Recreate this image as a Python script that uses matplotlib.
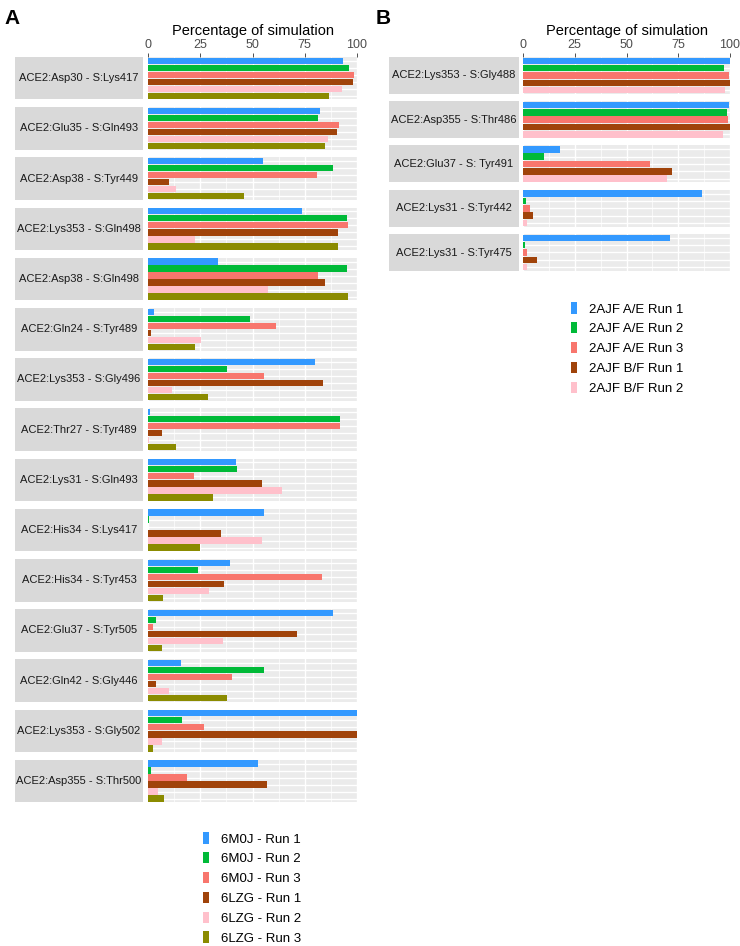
import matplotlib.pyplot as plt
from matplotlib.patches import Patch, Rectangle

plt.rcParams["font.family"] = ["Liberation Sans", "DejaVu Sans"]

W, H = 740, 946

# ---- panel A data: 6M0J / 6LZG runs ----
pairs_a = [
    "ACE2:Asp30 - S:Lys417", "ACE2:Glu35 - S:Gln493", "ACE2:Asp38 - S:Tyr449",
    "ACE2:Lys353 - S:Gln498", "ACE2:Asp38 - S:Gln498", "ACE2:Gln24 - S:Tyr489",
    "ACE2:Lys353 - S:Gly496", "ACE2:Thr27 - S:Tyr489", "ACE2:Lys31 - S:Gln493",
    "ACE2:His34 - S:Lys417", "ACE2:His34 - S:Tyr453", "ACE2:Glu37 - S:Tyr505",
    "ACE2:Gln42 - S:Gly446", "ACE2:Lys353 - S:Gly502", "ACE2:Asp355 - S:Thr500",
]
runs_a = ["6M0J - Run 1", "6M0J - Run 2", "6M0J - Run 3",
          "6LZG - Run 1", "6LZG - Run 2", "6LZG - Run 3"]
m0j_run1 = [93.3, 82.5, 55.0, 73.5, 33.7, 2.9, 79.9, 1.0, 41.9, 55.7, 39.1, 88.5, 15.8, 100.0, 52.5]
m0j_run2 = [96.3, 81.3, 88.7, 95.4, 95.4, 48.8, 37.6, 91.9, 42.6, 0.5, 24.1, 4.0, 55.7, 16.1, 1.4]
m0j_run3 = [98.7, 91.4, 80.9, 95.5, 81.5, 61.2, 55.7, 91.9, 22.0, 0.2, 83.1, 2.2, 40.4, 26.8, 18.7]
lzg_run1 = [98.2, 90.4, 10.2, 90.9, 84.7, 1.4, 83.6, 6.7, 54.7, 35.1, 36.2, 71.1, 3.7, 100.0, 57.1]
lzg_run2 = [92.8, 86.1, 13.4, 22.5, 57.4, 25.5, 11.6, 0.5, 64.3, 54.5, 29.3, 36.0, 10.2, 6.7, 4.8]
lzg_run3 = [86.6, 84.7, 45.9, 90.7, 95.7, 22.3, 28.9, 13.2, 30.9, 24.9, 7.3, 6.7, 37.8, 2.6, 7.8]
series_a = [m0j_run1, m0j_run2, m0j_run3, lzg_run1, lzg_run2, lzg_run3]

# ---- panel B data: 2AJF runs ----
pairs_b = [
    "ACE2:Lys353 - S:Gly488", "ACE2:Asp355 - S:Thr486", "ACE2:Glu37 - S: Tyr491",
    "ACE2:Lys31 - S:Tyr442", "ACE2:Lys31 - S:Tyr475",
]
runs_b = ["2AJF A/E Run 1", "2AJF A/E Run 2", "2AJF A/E Run 3",
          "2AJF B/F Run 1", "2AJF B/F Run 2"]
ajf_ae_run1 = [100.0, 99.5, 18.0, 86.7, 70.9]
ajf_ae_run2 = [97.1, 98.4, 10.0, 1.3, 1.0]
ajf_ae_run3 = [99.7, 99.0, 61.4, 3.5, 1.9]
ajf_bf_run1 = [100.0, 99.8, 72.0, 4.8, 6.9]
ajf_bf_run2 = [97.4, 96.5, 69.6, 2.1, 1.9]
series_b = [ajf_ae_run1, ajf_ae_run2, ajf_ae_run3, ajf_bf_run1, ajf_bf_run2]

colors = ["#3399FF", "#00BA38", "#F8766D", "#A0430A", "#FFC0CB", "#8B8B00"]
xticks = [0, 25, 50, 75, 100]


def box(x0, y0, x1, y1):
    return [x0 / W, 1 - y1 / H, (x1 - x0) / W, (y1 - y0) / H]


def draw_facet(fig, rect, vals, cols, first):
    ax = fig.add_axes(rect)
    ax.set_facecolor("#EBEBEB")
    n = len(vals)
    ypos = list(range(n))
    ax.barh(ypos, vals, height=0.9, color=cols, zorder=3)
    ax.set_xlim(0, 100)
    ax.set_ylim(n - 0.47, -0.53)
    ax.set_axisbelow(True)
    ax.set_xticks(xticks)
    ax.set_xticks([12.5, 37.5, 62.5, 87.5], minor=True)
    ax.set_yticks(ypos)
    ax.grid(which="major", color="white", lw=1.0)
    ax.grid(which="minor", axis="x", color="white", lw=0.5)
    ax.tick_params(axis="y", which="both", length=0, labelleft=False)
    ax.tick_params(axis="x", which="minor", length=0)
    for s in ax.spines.values():
        s.set_visible(False)
    if first:
        ax.xaxis.tick_top()
        ax.xaxis.set_label_position("top")
        ax.tick_params(axis="x", which="major", length=3, width=0.6,
                       color="#333333", labelcolor="#4D4D4D", labelsize=9, pad=1.5)
        ax.set_xlabel("Percentage of simulation", fontsize=10.5, labelpad=3)
    else:
        ax.tick_params(axis="x", which="major", length=0,
                       labelbottom=False, labeltop=False)
    return ax


def draw_strip(fig, x0, y0, x1, y1, text):
    fig.add_artist(Rectangle((x0 / W, 1 - y1 / H), (x1 - x0) / W, (y1 - y0) / H,
                             transform=fig.transFigure, facecolor="#D9D9D9",
                             edgecolor="none"))
    fig.text((x0 + x1) / 2 / W, 1 - (y0 + y1) / 2 / H, text,
             ha="center", va="center", fontsize=8, color="#1A1A1A")


fig = plt.figure(figsize=(W / 100, H / 100), dpi=100)

# panel A
for i, pair in enumerate(pairs_a):
    top = 57 + i * 50.2
    bot = top + 42.5
    vals = [s[i] for s in series_a]
    draw_strip(fig, 15, top, 143, bot, pair)
    draw_facet(fig, box(148, top, 357, bot), vals, colors[:6], i == 0)

# panel B
for i, pair in enumerate(pairs_b):
    top = 57 + i * 44.25
    bot = top + 37
    vals = [s[i] for s in series_b]
    draw_strip(fig, 389, top, 519, bot, pair)
    draw_facet(fig, box(523, top, 730, bot), vals, colors[:5], i == 0)

fig.text(4 / W, 1 - 18 / H, "A", fontsize=15, fontweight="bold", va="center")
fig.text(376 / W, 1 - 18 / H, "B", fontsize=15, fontweight="bold", va="center")

handles_a = [Patch(facecolor=c, edgecolor="none") for c in colors[:6]]
fig.legend(handles_a, runs_a, loc="upper left", bbox_to_anchor=(198 / W, 1 - 827 / H),
           frameon=False, fontsize=9.5, handlelength=0.45, handleheight=0.95,
           handletextpad=0.9, labelspacing=0.5, borderaxespad=0)

handles_b = [Patch(facecolor=c, edgecolor="none") for c in colors[:5]]
fig.legend(handles_b, runs_b, loc="upper left", bbox_to_anchor=(566 / W, 1 - 297 / H),
           frameon=False, fontsize=9.5, handlelength=0.45, handleheight=0.95,
           handletextpad=0.9, labelspacing=0.5, borderaxespad=0)

fig.savefig("out.png", dpi=100)
